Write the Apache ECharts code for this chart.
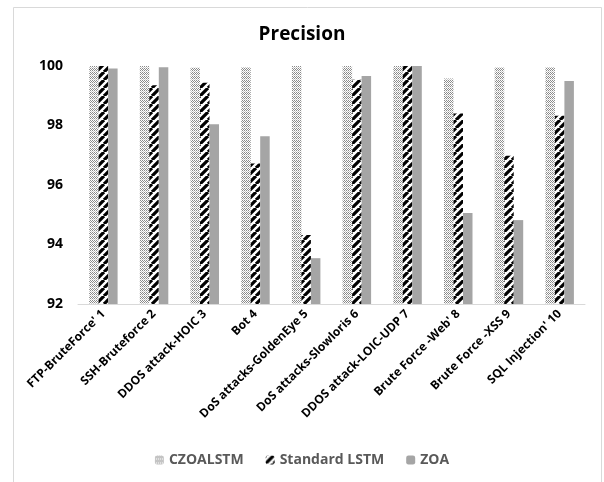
<!DOCTYPE html>
<html>
<head>
<meta charset="utf-8">
<script src="https://cdn.jsdelivr.net/npm/echarts@6/dist/echarts.min.js"></script>
<style>
  html, body { margin: 0; padding: 0; background: #fff; }
  #chart { width: 604px; height: 482px; }
</style>
</head>
<body>
<div id="chart"></div>
<script>
// Attack categories on the x axis
const categories = [
  "FTP-BruteForce' 1", "SSH-Bruteforce 2", "DDOS attack-HOIC 3", "Bot 4",
  "DoS attacks-GoldenEye 5", "DoS attacks-Slowloris 6", "DDOS attack-LOIC-UDP 7",
  "Brute Force -Web' 8", "Brute Force -XSS 9", "SQL Injection' 10"
];
// Precision per model
const czoalstm     = [100.0, 100.0, 99.95, 99.97, 100.0, 100.0, 100.0, 99.58, 99.96, 99.97];
const standardLstm = [100.0, 99.35, 99.44, 96.72, 94.32, 99.54, 100.0, 98.40, 96.98, 98.33];
const zoa          = [99.92, 99.96, 98.04, 97.64, 93.54, 99.66, 100.0, 95.06, 94.82, 99.50];
const yTicks = { min: 92, max: 100, interval: 2 };

// Fine dotted fill
function dotPattern() {
  const c = document.createElement('canvas');
  c.width = 4; c.height = 4;
  const g = c.getContext('2d');
  g.fillStyle = '#ffffff'; g.fillRect(0, 0, 4, 4);
  g.fillStyle = '#8a8a8a';
  g.fillRect(0, 0, 1, 1); g.fillRect(2, 0, 1, 1);
  g.fillRect(1, 1, 1, 1); g.fillRect(3, 1, 1, 1);
  g.fillRect(0, 2, 1, 1); g.fillRect(2, 2, 1, 1);
  g.fillStyle = '#c8c8c8';
  g.fillRect(1, 3, 1, 1); g.fillRect(3, 3, 1, 1);
  return c;
}
// Wide upward diagonal stripes
function stripePattern() {
  const s = 8;
  const c = document.createElement('canvas');
  c.width = s; c.height = s;
  const g = c.getContext('2d');
  g.fillStyle = '#ffffff'; g.fillRect(0, 0, s, s);
  g.strokeStyle = '#000000';
  g.lineWidth = 3.2;
  g.beginPath();
  for (let k = -1; k <= 1; k++) {
    g.moveTo(k * s, s); g.lineTo(k * s + s, 0);
  }
  g.stroke();
  return c;
}

const chart = echarts.init(document.getElementById('chart'), null, { renderer: 'canvas' });
const font = "'Open Sans', 'Liberation Sans', sans-serif";

chart.setOption({
  animation: false,
  backgroundColor: '#ffffff',
  graphic: [{
    type: 'rect', silent: true,
    shape: { x: 13.5, y: 7.5, width: 588, height: 500 },
    style: { fill: 'none', stroke: '#d9d9d9', lineWidth: 1 }
  }],
  title: {
    text: 'Precision', left: 'center', top: 20,
    textStyle: { fontFamily: font, fontWeight: 'bold', fontSize: 19, color: '#000' }
  },
  legend: {
    bottom: 10, left: 'center', itemWidth: 9, itemHeight: 9, itemGap: 22,
    textStyle: { fontFamily: font, fontWeight: 'bold', fontSize: 14, color: '#595959' },
    data: ['CZOALSTM', 'Standard LSTM', 'ZOA']
  },
  grid: { left: 78, right: 19, top: 66, bottom: 178, containLabel: false },
  xAxis: {
    type: 'category', data: categories,
    axisLine: { lineStyle: { color: '#d9d9d9', width: 1 } },
    axisTick: { show: false },
    axisLabel: {
      rotate: 45, interval: 0, margin: 8,
      fontFamily: font, fontWeight: 'bold', fontSize: 12, color: '#000'
    }
  },
  yAxis: {
    type: 'value', min: yTicks.min, max: yTicks.max, interval: yTicks.interval,
    axisLine: { show: false }, axisTick: { show: false }, splitLine: { show: false },
    axisLabel: { fontFamily: font, fontWeight: 'bold', fontSize: 14, color: '#000', margin: 15 }
  },
  series: [
    { name: 'CZOALSTM', type: 'bar', data: czoalstm, barWidth: 9.5, barGap: '0%',
      itemStyle: { color: { image: dotPattern(), repeat: 'repeat' } } },
    { name: 'Standard LSTM', type: 'bar', data: standardLstm, barWidth: 9.5, barGap: '0%',
      itemStyle: { color: { image: stripePattern(), repeat: 'repeat' } } },
    { name: 'ZOA', type: 'bar', data: zoa, barWidth: 9.5, barGap: '0%',
      itemStyle: { color: '#a5a5a5' } }
  ]
});
</script>
</body>
</html>
